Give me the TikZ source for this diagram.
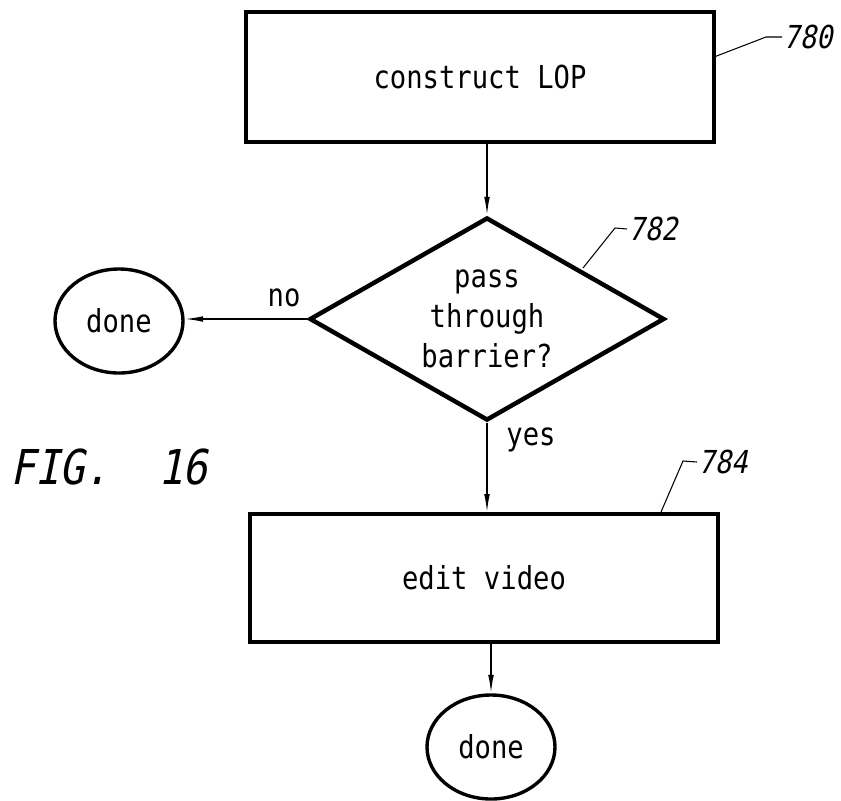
\documentclass[tikz,border=0pt]{standalone}
\usepackage{fontspec}
\usetikzlibrary{shapes.geometric,arrows.meta}
\newfontfamily\leroy{DejaVu Sans Mono}[FakeStretch=0.86]
\newfontfamily\leroyit{DejaVu Sans Mono}[FakeStretch=0.86,FakeSlant=0.2]
\tikzset{
  stepbox/.style={draw,line width=2.6pt,minimum width=14.04cm,minimum height=3.9cm,
    inner sep=0pt,font=\leroy\fontsize{27}{34}\selectfont},
  test/.style={draw,diamond,aspect=1.75,line width=3.8pt,minimum width=10.65cm,
    minimum height=6.09cm,inner sep=0pt,align=center,font=\leroy\fontsize{27}{34}\selectfont},
  stop/.style={draw,ellipse,line width=2.9pt,minimum width=3.84cm,minimum height=3.12cm,
    inner sep=0pt,font=\leroy\fontsize{27}{34}\selectfont},
  lab/.style={font=\leroy\fontsize{27}{34}\selectfont,inner sep=1pt},
  ref/.style={font=\leroyit\fontsize{27}{30}\selectfont,inner sep=1pt,anchor=west},
  leader/.style={line width=0.9pt},
  flow/.style={line width=1.3pt,-{Latex[length=5.5mm,width=1.7mm]}}
}
\begin{document}
\begin{tikzpicture}[x=0.03cm,y=-0.03cm]
  \useasboundingbox (0,0) rectangle (841,800);
  \node[stepbox] (780) at (480,77) {construct LOP};
  \node[test] (782) at (487,319) {pass\\through\\barrier?};
  \node[stop] (d782) at (119,321) {done};
  \node[stepbox,minimum height=3.84cm] (784) at (484,578) {edit video};
  \node[stop] (d784) at (491,747) {done};
  \node[lab] (no) at (284,298) {no};
  \node[lab,anchor=west] (yes) at (505,440) {yes};
  \node[font=\leroyit\fontsize{41}{45}\selectfont,inner sep=0pt,anchor=west] (fig) at (10,467) {FIG.\hspace{1.45cm}16};
  % reference numerals
  \node[ref] (n780) at (782,37) {780};
  \node[ref] (n782) at (627,229) {782};
  \node[ref] (n784) at (697,462) {784};
  \coordinate (a780) at (714,57);
  \coordinate (a782) at (583,268);
  \coordinate (a784) at (661,512);
  \begin{scope}[leader]
    \draw (a780) -- ++(52,-20) -- (n780.west);
    \draw (a782) -- ++(32,-40) -- (n782.west);
    \draw (a784) -- ++(22,-51) -- (n784.west);
  \end{scope}
  \begin{scope}[flow]
    \draw (780.south -| 782.north) -- (782.north);
    \draw (782.west) -- (782.west -| d782.east);
    \draw (782.south) -- (782.south |- 784.north);
    \draw (784.south -| d784.north) -- (d784.north);
  \end{scope}
\end{tikzpicture}
\end{document}
